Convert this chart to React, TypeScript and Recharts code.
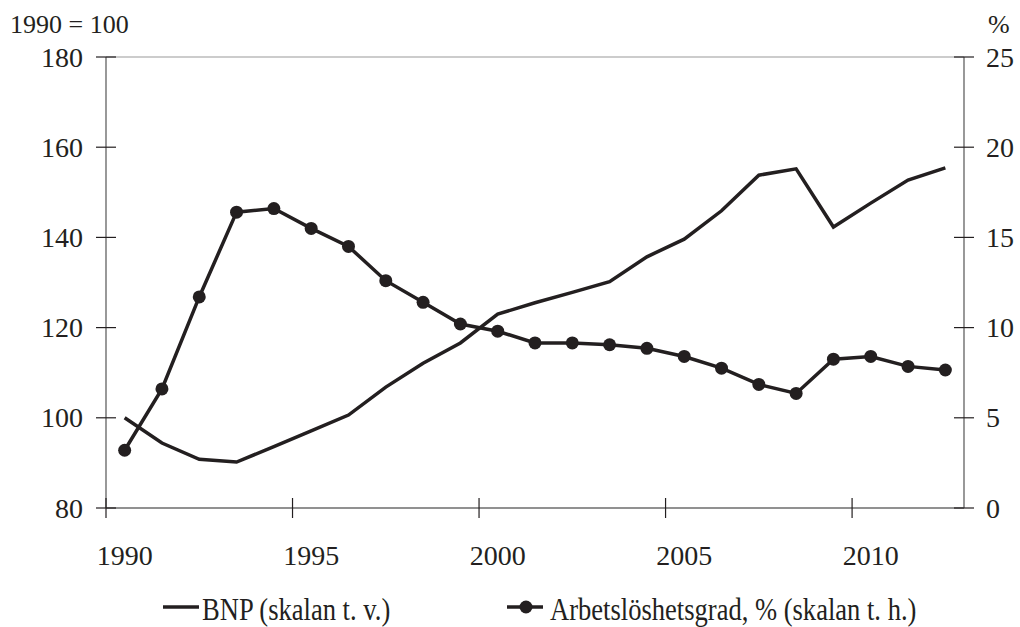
import React from "react";
import { LineChart, Line, XAxis, YAxis, ReferenceLine } from "recharts";

const years = [1990, 1991, 1992, 1993, 1994, 1995, 1996, 1997, 1998, 1999, 2000, 2001, 2002, 2003, 2004, 2005, 2006, 2007, 2008, 2009, 2010, 2011, 2012];
const bnp = [100, 94.4, 90.8, 90.2, 93.6, 97.1, 100.6, 106.8, 112.1, 116.6, 123, 125.5, 127.8, 130.2, 135.7, 139.6, 145.9, 153.8, 155.2, 142.3, 147.6, 152.7, 155.4];
const arbetsloshet = [3.2, 6.6, 11.7, 16.4, 16.6, 15.5, 14.5, 12.6, 11.4, 10.2, 9.8, 9.15, 9.15, 9.05, 8.85, 8.4, 7.75, 6.85, 6.35, 8.25, 8.4, 7.85, 7.65];
const xTicks = [1990, 1995, 2000, 2005, 2010];
const leftTicks = [80, 100, 120, 140, 160, 180];
const rightTicks = [0, 5, 10, 15, 20, 25];
const seriesNames = ["BNP (skalan t. v.)", "Arbetslöshetsgrad, % (skalan t. h.)"];

// points sit in the middle of each year
const data = years.map((y, i) => ({ x: y + 0.5, bnp: bnp[i], al: arbetsloshet[i] }));

const FONT = "'Liberation Serif', 'Times New Roman', serif";
const INK = "#231f20";
const AXIS = "#6d6d6d";

const W = 1020;
const H = 627;
const LEFT = 106;
const RIGHT = 964;
const TOP = 57;
const BOTTOM = 508;
const halfYear = (RIGHT - LEFT) / 23 / 2;

const LeftTick = (props: any) => {
  const { y, payload } = props;
  return (
    <g>
      <line x1={LEFT - 10} x2={LEFT + 10} y1={y} y2={y} stroke={INK} strokeWidth={1.2} />
      <text x={83} y={y + 9.5} textAnchor="end" fontFamily={FONT} fontSize={28} fill={INK}>
        {payload.value}
      </text>
    </g>
  );
};

const RightTick = (props: any) => {
  const { y, payload } = props;
  return (
    <g>
      <line x1={RIGHT - 10} x2={RIGHT + 10} y1={y} y2={y} stroke={INK} strokeWidth={1.2} />
      <text x={986} y={y + 9.5} textAnchor="start" fontFamily={FONT} fontSize={28} fill={INK}>
        {payload.value}
      </text>
    </g>
  );
};

const BottomTick = (props: any) => {
  const { x, payload } = props;
  return (
    <g>
      <line x1={x} x2={x} y1={BOTTOM - 10} y2={BOTTOM + 10} stroke={INK} strokeWidth={1.2} />
      <text x={x + halfYear} y={565} textAnchor="middle" fontFamily={FONT} fontSize={28} fill={INK}>
        {payload.value}
      </text>
    </g>
  );
};

// legend drawn below the plot; text is a condensed serif like the source
const ChartLegend = () => (
  <svg style={{ position: "absolute", left: 0, top: 0 }} width={W} height={H} pointerEvents="none">
    <line x1={163} x2={199} y1={607} y2={607} stroke={INK} strokeWidth={3.5} />
    <text transform="translate(202,620) scale(0.83,1)" fontFamily={FONT} fontSize={32} fill={INK}>
      {seriesNames[0]}
    </text>
    <line x1={507} x2={543} y1={607} y2={607} stroke={INK} strokeWidth={3.5} />
    <circle cx={526} cy={607} r={6.5} fill={INK} />
    <text transform="translate(550,620) scale(0.83,1)" fontFamily={FONT} fontSize={32} fill={INK}>
      {seriesNames[1]}
    </text>
  </svg>
);

export default function App() {
  return (
    <div style={{ position: "absolute", left: 0, top: 0, width: W, height: H, background: "#fff", overflow: "hidden" }}>
      <LineChart width={W} height={H} data={data} margin={{ top: TOP, right: 0, bottom: 0, left: 0 }}>
        <XAxis
          dataKey="x"
          type="number"
          domain={[1990, 2013]}
          ticks={xTicks}
          height={H - BOTTOM}
          stroke={AXIS}
          strokeWidth={1.4}
          tickLine={false}
          tick={<BottomTick />}
          interval={0}
        />
        <YAxis
          yAxisId="left"
          orientation="left"
          domain={[80, 180]}
          ticks={leftTicks}
          width={LEFT}
          stroke={AXIS}
          strokeWidth={1.4}
          tickLine={false}
          tick={<LeftTick />}
          interval={0}
        />
        <YAxis
          yAxisId="right"
          orientation="right"
          domain={[0, 25]}
          ticks={rightTicks}
          width={W - RIGHT}
          stroke={AXIS}
          strokeWidth={1.4}
          tickLine={false}
          tick={<RightTick />}
          interval={0}
        />
        <ReferenceLine yAxisId="left" y={180} stroke="#9a9a9a" strokeWidth={1.2} />
        <Line
          yAxisId="left"
          dataKey="bnp"
          name={seriesNames[0]}
          stroke={INK}
          strokeWidth={3.5}
          dot={false}
          isAnimationActive={false}
        />
        <Line
          yAxisId="right"
          dataKey="al"
          name={seriesNames[1]}
          stroke={INK}
          strokeWidth={3.5}
          dot={{ r: 6.5, fill: INK, stroke: "none" }}
          isAnimationActive={false}
        />
      </LineChart>
      <ChartLegend />
      <svg style={{ position: "absolute", left: 0, top: 0 }} width={W} height={40} pointerEvents="none">
        <text x={10} y={33} fontFamily={FONT} fontSize={26} fill={INK}>1990 = 100</text>
        <text x={988} y={33} fontFamily={FONT} fontSize={26} fill={INK}>%</text>
      </svg>
    </div>
  );
}
